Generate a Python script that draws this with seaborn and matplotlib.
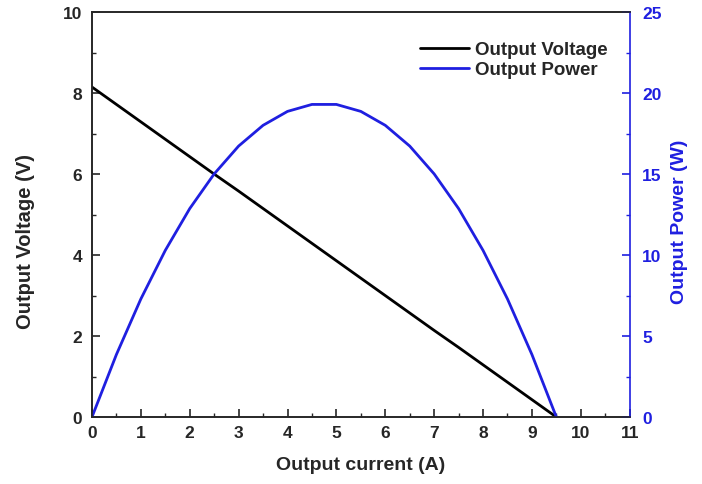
import numpy as np
import pandas as pd
import matplotlib
matplotlib.use("Agg")
import matplotlib.pyplot as plt
import seaborn as sns
from matplotlib.ticker import MultipleLocator
from matplotlib.lines import Line2D

current = [0.0, 0.5, 1.0, 1.5, 2.0, 2.5, 3.0, 3.5, 4.0, 4.5, 5.0, 5.5, 6.0, 6.5, 7.0, 7.5, 8.0, 8.5, 9.0, 9.5]
voltage = [8.15, 7.72, 7.29, 6.86, 6.43, 6.00, 5.58, 5.15, 4.72, 4.29, 3.86, 3.43, 3.00, 2.57, 2.14, 1.72, 1.29, 0.86, 0.43, 0.0]
power = [0.0, 3.86, 7.29, 10.29, 12.87, 15.01, 16.73, 18.01, 18.87, 19.30, 19.30, 18.87, 18.01, 16.73, 15.01, 12.87, 10.29, 7.29, 3.86, 0.0]

df = pd.DataFrame({"current": current, "voltage": voltage, "power": power})

sns.set_style("ticks")
plt.rcParams['font.family'] = ['Liberation Sans', 'DejaVu Sans']
plt.rcParams['font.weight'] = 'bold'
plt.rcParams['axes.labelweight'] = 'bold'

BLUE = "#1f1fe0"

fig = plt.figure(figsize=(7.02, 4.85), dpi=100)
ax = fig.add_axes([0.131, 0.138, 0.766, 0.835])
ax2 = ax.twinx()

sns.lineplot(data=df, x="current", y="voltage", ax=ax, color="black", lw=2, legend=False)
sns.lineplot(data=df, x="current", y="power", ax=ax2, color=BLUE, lw=2, legend=False)

ax.set_xlim(0, 11)
ax.set_ylim(0, 10)
ax2.set_ylim(0, 25)
ax.xaxis.set_major_locator(MultipleLocator(1))
ax.xaxis.set_minor_locator(MultipleLocator(0.5))
ax.yaxis.set_major_locator(MultipleLocator(2))
ax.yaxis.set_minor_locator(MultipleLocator(1))
ax2.yaxis.set_major_locator(MultipleLocator(5))
ax2.yaxis.set_minor_locator(MultipleLocator(2.5))

for a in (ax, ax2):
    a.tick_params(which='major', direction='in', length=6, width=1.2, labelsize=12.5)
    a.tick_params(which='minor', direction='in', length=3, width=1)
ax.tick_params(axis='x', which='both', top=False, pad=6)
ax.tick_params(axis='y', pad=7)
ax2.tick_params(axis='y', colors=BLUE, which='both', pad=9)
for lbl in ax.get_xticklabels() + ax.get_yticklabels() + ax2.get_yticklabels():
    lbl.set_fontweight('bold')

for s in ax.spines.values():
    s.set_linewidth(1.2)
for s in ax2.spines.values():
    s.set_linewidth(1.2)
ax2.spines['right'].set_color(BLUE)
ax.spines['right'].set_visible(False)

ax.set_xlabel("Output current (A)", fontsize=14, fontweight='bold', labelpad=11)
ax.set_ylabel("Output Voltage (V)", fontsize=14.5, fontweight='bold')
ax2.set_ylabel("Output Power (W)", fontsize=14, fontweight='bold', color=BLUE)
ax.yaxis.set_label_coords(-0.106, 0.435)
ax2.yaxis.set_label_coords(1.076, 0.484)

handles = [Line2D([], [], color='black', lw=2), Line2D([], [], color=BLUE, lw=2)]
ax.legend(handles, ["Output Voltage", "Output Power"], loc='upper right', frameon=False,
          bbox_to_anchor=(0.99, 0.97), prop={'weight': 'bold', 'size': 13.5},
          handlelength=2.6, handletextpad=0.3, labelspacing=0.15)

fig.savefig("out.png", dpi=100)
